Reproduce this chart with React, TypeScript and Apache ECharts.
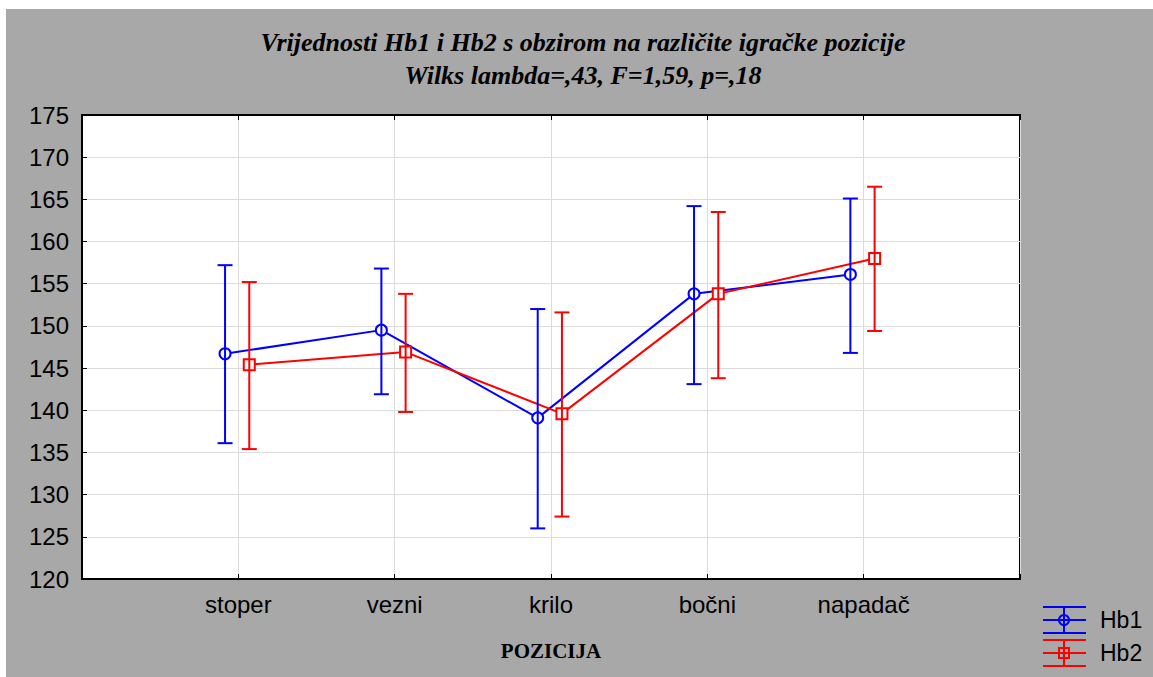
import React, { useEffect, useRef } from "react";
import * as echarts from "echarts";

const categories = ["stoper", "vezni", "krilo", "bočni", "napadač"];
const hb1Mean = [146.7, 149.5, 139.1, 153.8, 156.1];
const hb1Low = [136.1, 141.9, 126.0, 143.1, 146.8];
const hb1High = [157.2, 156.8, 152.0, 164.2, 165.1];
const hb2Mean = [145.4, 146.9, 139.6, 153.8, 158.0];
const hb2Low = [135.4, 139.8, 127.4, 143.8, 149.4];
const hb2High = [155.2, 153.8, 151.6, 163.5, 166.5];
const yTicks = { min: 120, max: 175, interval: 5 };
const titleLines = [
  "Vrijednosti Hb1 i Hb2 s obzirom na različite igračke pozicije",
  "Wilks lambda=,43, F=1,59, p=,18",
];
const xAxisName = "POZICIJA";
const seriesNames = ["Hb1", "Hb2"];

const BLUE = "#0000ff";
const RED = "#ff0000";
const OFF1 = -0.085;
const OFF2 = 0.07;

function errorSeries(name: string, low: number[], high: number[], off: number, color: string) {
  return {
    name: name + "_err",
    type: "custom",
    z: 5,
    data: low.map((l, i) => [i + 1 + off, l, high[i]]),
    renderItem: (params: any, api: any) => {
      const x = api.value(0);
      const lo = api.coord([x, api.value(1)]);
      const hi = api.coord([x, api.value(2)]);
      const hw = 7.5;
      const st = { stroke: color, lineWidth: 2 };
      return {
        type: "group",
        children: [
          { type: "line", shape: { x1: lo[0], y1: lo[1], x2: hi[0], y2: hi[1] }, style: st },
          { type: "line", shape: { x1: lo[0] - hw, y1: lo[1], x2: lo[0] + hw, y2: lo[1] }, style: st },
          { type: "line", shape: { x1: hi[0] - hw, y1: hi[1], x2: hi[0] + hw, y2: hi[1] }, style: st },
        ],
      };
    },
  };
}

function legendItem(y: number, color: string, marker: "circle" | "rect", label: string) {
  const st = { stroke: color, lineWidth: 2 };
  const cx = 1064;
  const children: any[] = [
    { type: "line", shape: { x1: 1043, y1: y - 13, x2: 1086, y2: y - 13 }, style: st },
    { type: "line", shape: { x1: 1043, y1: y, x2: 1086, y2: y }, style: st },
    { type: "line", shape: { x1: 1043, y1: y + 13, x2: 1086, y2: y + 13 }, style: st },
    { type: "line", shape: { x1: cx, y1: y - 13, x2: cx, y2: y + 13 }, style: st },
  ];
  if (marker === "circle") {
    children.push({ type: "circle", shape: { cx, cy: y, r: 5 }, style: { fill: "none", stroke: color, lineWidth: 2 } });
  } else {
    children.push({ type: "rect", shape: { x: cx - 5, y: y - 5, width: 10, height: 10 }, style: { fill: "none", stroke: color, lineWidth: 2 } });
  }
  children.push({
    type: "text",
    x: 1100,
    y: y,
    style: { text: label, fill: "#000", font: "23px 'Liberation Sans', Arial, sans-serif", textVerticalAlign: "middle" },
  });
  return { type: "group", children };
}

export default function App() {
  const ref = useRef<HTMLDivElement>(null);
  useEffect(() => {
    if (!ref.current) return;
    const chart = echarts.init(ref.current, undefined, { renderer: "svg" });
    const xCommon = {
      type: "value",
      min: 0,
      max: 6,
      interval: 1,
    };
    const titleFont = "italic bold 26px 'Liberation Serif', 'Times New Roman', serif";
    chart.setOption({
      animation: false,
      backgroundColor: "transparent",
      textStyle: { fontFamily: "'Liberation Sans', Arial, sans-serif" },
      grid: {
        left: 82,
        top: 115,
        right: 133,
        bottom: 98,
        show: true,
        backgroundColor: "#ffffff",
        borderColor: "#000",
        borderWidth: 2,
      },
      graphic: [
        {
          type: "text",
          x: 583,
          y: 42,
          style: { text: titleLines[0], fill: "#000", font: titleFont, textAlign: "center", textVerticalAlign: "middle" },
        },
        {
          type: "text",
          x: 583,
          y: 75,
          style: { text: titleLines[1], fill: "#000", font: titleFont, textAlign: "center", textVerticalAlign: "middle" },
        },
        {
          type: "text",
          x: 551,
          y: 651,
          style: {
            text: xAxisName,
            fill: "#000",
            font: "bold 21px 'Liberation Serif', 'Times New Roman', serif",
            textAlign: "center",
            textVerticalAlign: "middle",
          },
        },
        legendItem(620, BLUE, "circle", seriesNames[0]),
        legendItem(653, RED, "rect", seriesNames[1]),
      ],
      xAxis: [
        {
          ...xCommon,
          position: "bottom",
          axisLine: { show: true, lineStyle: { color: "#000", width: 2 } },
          axisTick: { show: true, inside: true, length: 5, lineStyle: { color: "#000", width: 1 } },
          axisLabel: {
            color: "#000",
            fontSize: 24,
            margin: 13,
            formatter: (v: number) => (v >= 1 && v <= categories.length ? categories[v - 1] : ""),
          },
          splitLine: { show: true, lineStyle: { color: "#dcdcdc", width: 1 } },
        },
        {
          ...xCommon,
          position: "top",
          axisLine: { show: true, lineStyle: { color: "#000", width: 2 } },
          axisTick: { show: true, inside: true, length: 5, lineStyle: { color: "#000", width: 1 } },
          axisLabel: { show: false },
          splitLine: { show: false },
        },
      ],
      yAxis: {
        type: "value",
        min: yTicks.min,
        max: yTicks.max,
        interval: yTicks.interval,
        axisLine: { show: true, lineStyle: { color: "#000", width: 2 } },
        axisTick: { show: true, inside: true, length: 5, lineStyle: { color: "#000", width: 1 } },
        axisLabel: { color: "#000", fontSize: 24, margin: 13 },
        splitLine: { show: true, lineStyle: { color: "#dcdcdc", width: 1 } },
      },
      series: [
        {
          name: seriesNames[0],
          type: "line",
          z: 3,
          data: hb1Mean.map((v, i) => [i + 1 + OFF1, v]),
          symbol: "circle",
          symbolSize: 11,
          lineStyle: { color: BLUE, width: 2 },
          itemStyle: { color: "#fff", borderColor: BLUE, borderWidth: 2 },
        },
        {
          name: seriesNames[1],
          type: "line",
          z: 3,
          data: hb2Mean.map((v, i) => [i + 1 + OFF2, v]),
          symbol: "rect",
          symbolSize: 11,
          lineStyle: { color: RED, width: 2 },
          itemStyle: { color: "#fff", borderColor: RED, borderWidth: 2 },
        },
        errorSeries(seriesNames[0], hb1Low, hb1High, OFF1, BLUE),
        errorSeries(seriesNames[1], hb2Low, hb2High, OFF2, RED),
      ],
    });
    return () => chart.dispose();
  }, []);
  return (
    <div style={{ position: "fixed", left: 0, top: 0, width: 1153, height: 677, background: "#fff" }}>
      <div style={{ position: "absolute", left: 6, top: 9, right: 0, bottom: 0, background: "#a8a8a8" }} />
      <div ref={ref} style={{ position: "absolute", left: 0, top: 0, width: 1153, height: 677 }} />
    </div>
  );
}
